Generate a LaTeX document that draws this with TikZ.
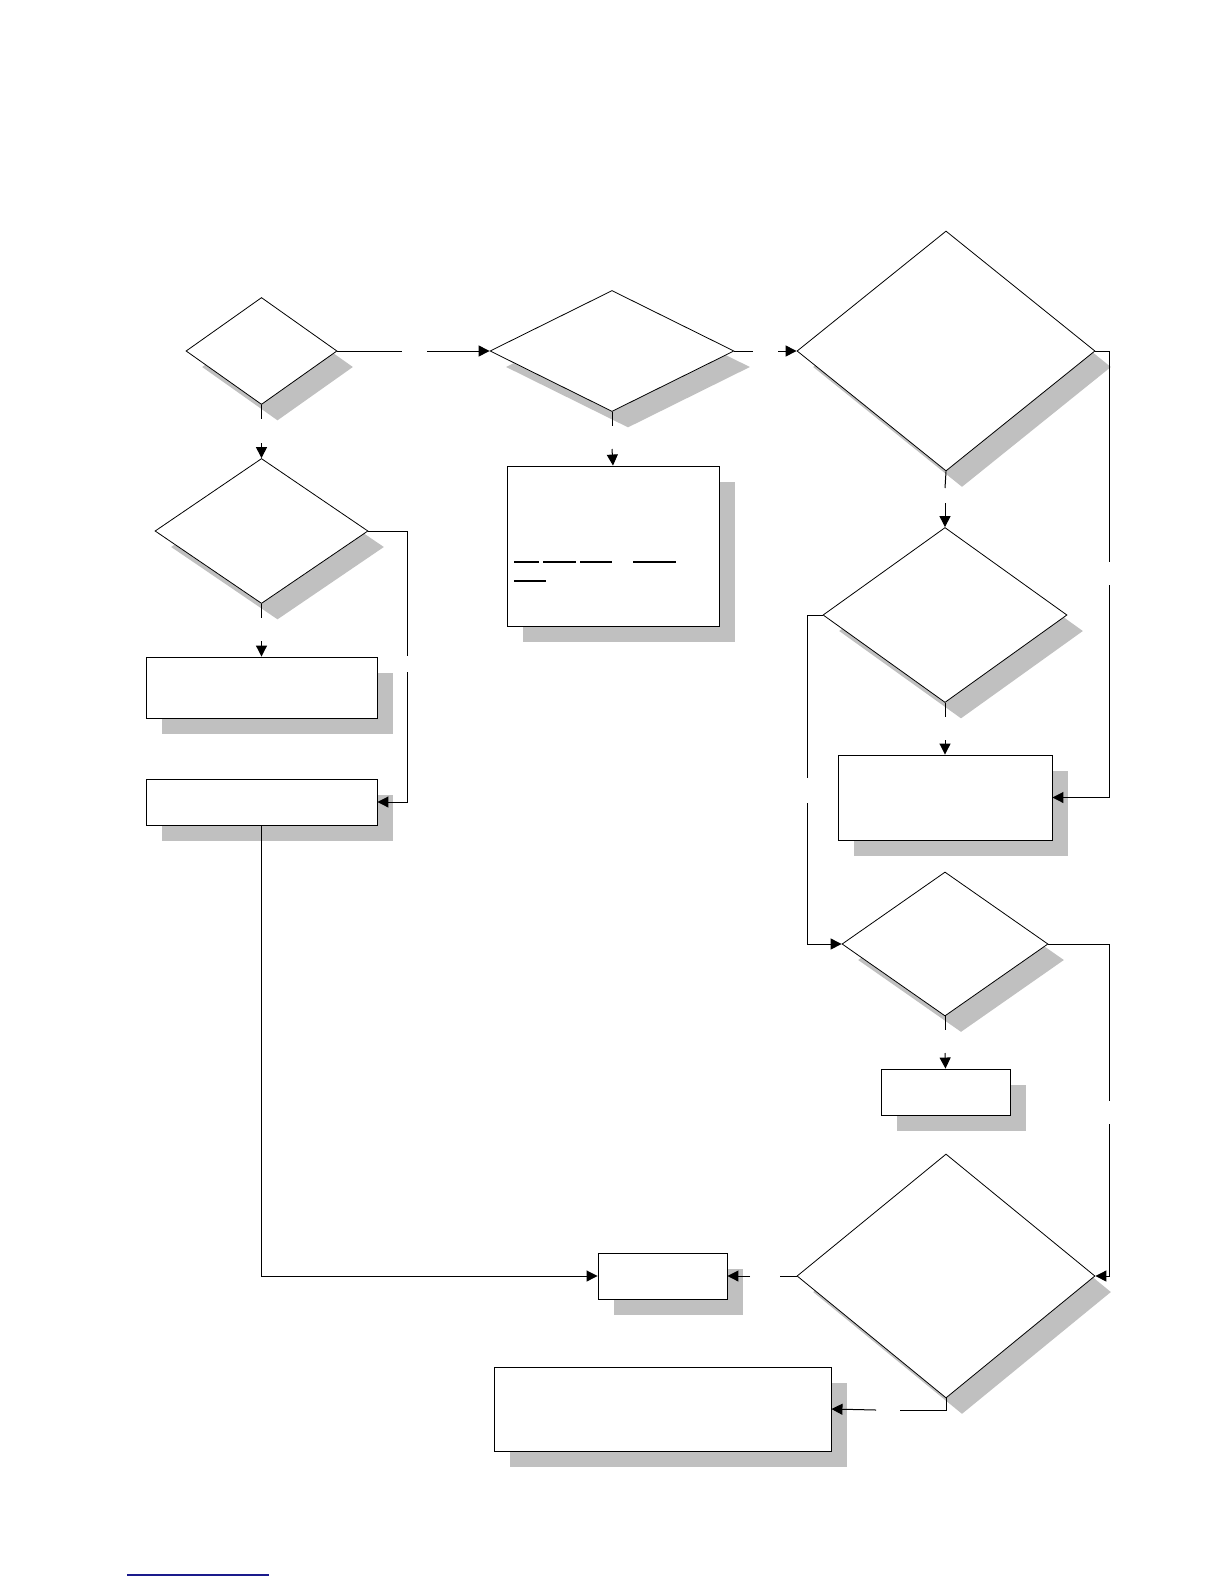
\documentclass[tikz,border=0pt]{standalone}
\usetikzlibrary{shapes.geometric,shadows,arrows.meta}
\definecolor{shadowgray}{HTML}{C0C0C0}
\definecolor{linknavy}{HTML}{1A1A8C}
\begin{document}
\begin{tikzpicture}[x=0.5pt,y=-0.5pt,
  shd/.style={drop shadow={shadow xshift=8pt,shadow yshift=-8pt,fill=shadowgray,opacity=1}},
  dec/.style={diamond,draw,line width=0.4pt,fill=white,inner sep=0pt,shd},
  box/.style={rectangle,draw,line width=0.45pt,fill=white,inner sep=0pt,shd},
  conn/.style={line width=0.5pt},
  arr/.style={line width=0.5pt,-{Triangle[length=5.5pt,width=5.5pt]}},
  uline/.style={line width=0.6pt}]
\useasboundingbox (0,0) rectangle (1224,1584);
% decisions
\node[dec,minimum width=151*0.5pt,minimum height=107*0.5pt] (d1) at (261.5,351) {};
\node[dec,minimum width=244*0.5pt,minimum height=121*0.5pt] (d2) at (612,351) {};
\node[dec,minimum width=298*0.5pt,minimum height=240*0.5pt] (d3) at (946,351) {};
\node[dec,minimum width=213*0.5pt,minimum height=145*0.5pt] (d4) at (261.5,531) {};
\node[dec,minimum width=244*0.5pt,minimum height=175*0.5pt] (d5) at (945,615) {};
\node[dec,minimum width=206*0.5pt,minimum height=144*0.5pt] (d6) at (945,944) {};
\node[dec,minimum width=298*0.5pt,minimum height=244*0.5pt] (d7) at (946,1276) {};
% boxes
\node[box,minimum width=212*0.5pt,minimum height=160*0.5pt] (b1) at (613,546) {};
\node[box,minimum width=231*0.5pt,minimum height=61*0.5pt] (b2) at (261.5,687.5) {};
\node[box,minimum width=231*0.5pt,minimum height=46*0.5pt] (b3) at (261.5,802) {};
\node[box,minimum width=214*0.5pt,minimum height=85*0.5pt] (b4) at (945,797.5) {};
\node[box,minimum width=129*0.5pt,minimum height=46*0.5pt] (b5) at (945.5,1092) {};
\node[box,minimum width=129*0.5pt,minimum height=46*0.5pt] (b6) at (662.5,1276) {};
\node[box,minimum width=337*0.5pt,minimum height=84*0.5pt] (b7) at (662.5,1409) {};
% underlines in b1
\draw[uline] (514,562) -- (539,562);
\draw[uline] (543,562) -- (576,562);
\draw[uline] (580,562) -- (612,562);
\draw[uline] (633,562) -- (676,562);
\draw[line width=1.1pt] (514,581) -- (546,581);
% gap coordinates
\coordinate (g1a) at (402,351); \coordinate (g1b) at (427,351);
\coordinate (g2a) at (753,351); \coordinate (g2b) at (778,351);
\coordinate (g3a) at (261.5,419); \coordinate (g3b) at (261.5,443);
\coordinate (g4a) at (612,426); \coordinate (g4b) at (612,449);
\coordinate (g5a) at (945,488); \coordinate (g5b) at (945,503);
\coordinate (g6a) at (261.5,618); \coordinate (g6b) at (261.5,641);
\coordinate (g7a) at (945,717); \coordinate (g7b) at (945,740);
\coordinate (g8a) at (945,1030); \coordinate (g8b) at (945,1053);
\coordinate (g9a) at (1109,562); \coordinate (g9b) at (1109,585);
\coordinate (g10a) at (407,656); \coordinate (g10b) at (407,672);
\coordinate (g11a) at (807,778); \coordinate (g11b) at (807,803);
\coordinate (g12a) at (1109,1101); \coordinate (g12b) at (1109,1124);
\coordinate (g13a) at (780,1276); \coordinate (g13b) at (750,1276);
\coordinate (g14a) at (900,1410); \coordinate (g14b) at (876,1410);
% connectors
\draw[conn] (d1.east) -- (g1a); \draw[arr] (g1b) -- (d2.west);
\draw[conn] (d2.east) -- (g2a); \draw[arr] (g2b) -- (d3.west);
\draw[conn] (d1.south) -- (g3a); \draw[arr] (g3b) -- (d4.north);
\draw[conn] (d2.south) -- (g4a); \draw[arr] (g4b) -- (b1.north);
\draw[conn] (d3.south) -- (g5a); \draw[arr] (g5b) -- (d5.north);
\draw[conn] (d4.south) -- (g6a); \draw[arr] (g6b) -- (b2.north);
\draw[conn] (d5.south) -- (g7a); \draw[arr] (g7b) -- (b4.north);
\draw[conn] (d6.south) -- (g8a); \draw[arr] (g8b) -- (b5.north);
\draw[conn] (d3.east) -| (g9a); \draw[arr] (g9b) |- (b4.east);
\draw[conn] (d4.east) -| (g10a); \draw[arr] (g10b) |- (b3.east);
\draw[conn] (d5.west) -| (g11a); \draw[arr] (g11b) |- (d6.west);
\draw[conn] (d6.east) -| (g12a); \draw[arr] (g12b) |- (d7.east);
\draw[conn] (d7.west) -- (g13a); \draw[arr] (g13b) -- (b6.east);
\draw[conn] (d7.south) |- (g14a); \draw[arr] (g14b) -- (b7.east);
\draw[arr] (b3.south) |- (b6.west);
% link underline
\coordinate (la) at (127,1575); \coordinate (lb) at (269,1575);
\draw[linknavy,line width=0.6pt] (la) -- (lb);
\end{tikzpicture}
\end{document}
